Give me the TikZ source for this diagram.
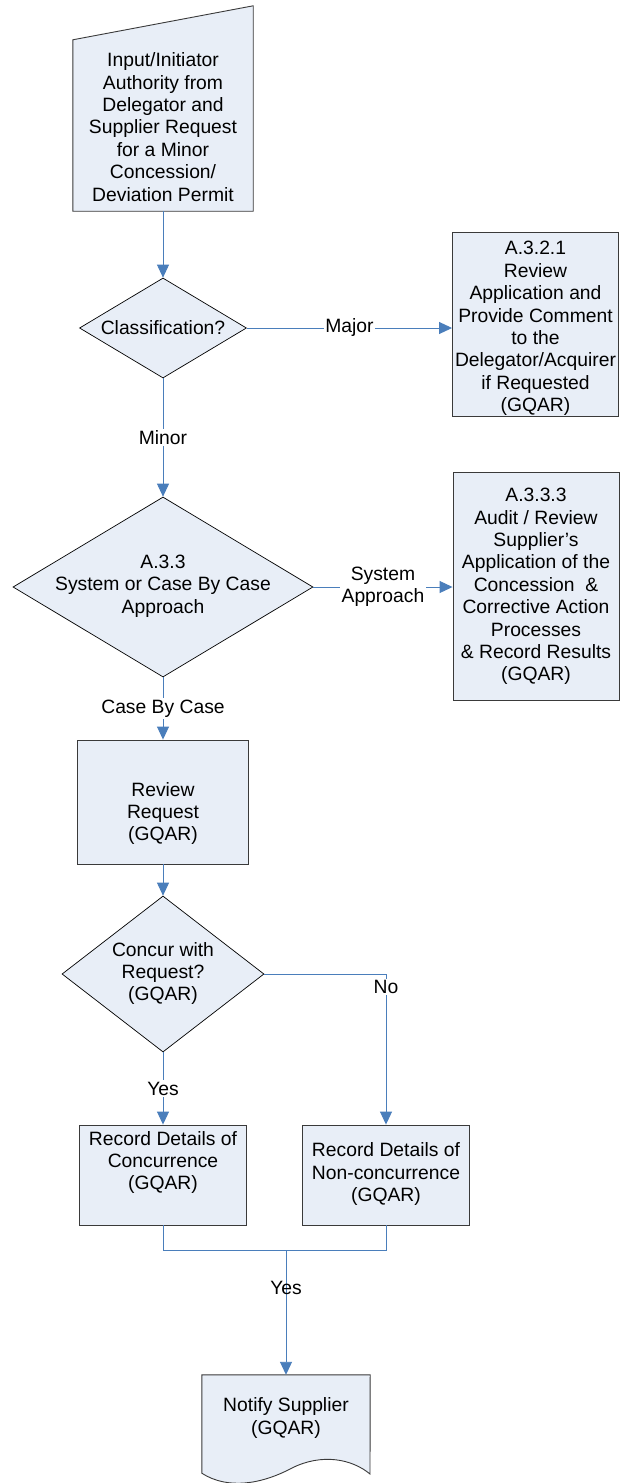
\documentclass[tikz,border=0pt]{standalone}
\usepackage{fontspec}
\setmainfont{Liberation Sans}
\usetikzlibrary{shapes.geometric,arrows.meta,calc}
\definecolor{boxfill}{HTML}{E8EEF7}
\definecolor{linkblue}{HTML}{4A7EBB}
\definecolor{edgegray}{HTML}{3A3A3A}
\begin{document}
\begin{tikzpicture}[x=1pt,y=-1pt,
  every node/.style={font=\fontsize{19.3}{22.4}\selectfont},
  procbox/.style={draw=edgegray, fill=boxfill, line width=0.9pt, rectangle, inner sep=0pt},
  decbox/.style={draw=black, fill=boxfill, line width=0.7pt, diamond, inner sep=0pt},
  ghost/.style={draw=none, rectangle, inner sep=0pt},
  txt/.style={align=center, inner sep=0pt},
  conn/.style={draw=linkblue, line width=0.9pt},
  arr/.style={conn, -{Triangle[width=12pt,length=13pt]}},
  lbl/.style={fill=white, inner sep=1.5pt, align=center},
  lblclear/.style={inner sep=1.5pt, align=center},
]
\useasboundingbox[fill=white] (0,0) rectangle (620,1483);

% Manual input shape
\node[ghost, minimum width=180pt, minimum height=205pt] (inp) at (163,108.5) {};
\draw[draw=edgegray, fill=boxfill, line width=0.9pt]
  (inp.south west) -- (inp.south east) -- (inp.north east) -- ($(inp.north west)+(0,34)$) -- cycle;
\node[txt] (inpTxt) at (163,127) {Input/Initiator\\Authority from\\Delegator and\\Supplier Request\\for a Minor\\Concession/\\Deviation Permit};

% Classification diamond
\node[decbox, minimum width=167pt, minimum height=100pt] (d1) at (163,328) {};
\node[txt] (d1Txt) at (163,328) {Classification?};

% A.3.2.1 box
\node[procbox, minimum width=166pt, minimum height=184pt] (r1) at (535.5,324.5) {};
\node[txt] (r1Txt) at (535.5,328.5) {A.3.2.1\\Review\\Application and\\Provide Comment\\to the\\Delegator/Acquirer\\if Requested\\(GQAR)};

% A.3.3 diamond
\node[decbox, minimum width=300pt, minimum height=180pt] (d2) at (163,587) {};
\node[txt] (d2Txt) at (163,586) {A.3.3\\System or Case By Case\\Approach};

% A.3.3.3 box
\node[procbox, minimum width=166pt, minimum height=228pt] (r2) at (536,586) {};
\node[txt] (r2Txt) at (536,586.5) {A.3.3.3\\Audit / Review\\Supplier’s\\Application of the\\Concession~~\&\\Corrective Action\\Processes\\\& Record Results\\(GQAR)};

% Review request
\node[procbox, minimum width=171pt, minimum height=124pt] (rv) at (163,802) {};
\node[txt] (rvTxt) at (163,813.5) {Review\\Request\\(GQAR)};

% Concur diamond
\node[decbox, minimum width=202pt, minimum height=156pt] (d3) at (163,974) {};
\node[txt] (d3Txt) at (163,973.5) {Concur with\\Request?\\(GQAR)};

% Record boxes
\node[procbox, minimum width=167pt, minimum height=100pt] (rc) at (163,1175) {};
\node[txt] (rcTxt) at (163,1162.5) {Record Details of\\Concurrence\\(GQAR)};
\node[procbox, minimum width=167pt, minimum height=100pt] (nc) at (386,1175) {};
\node[txt] (ncTxt) at (386,1174) {Record Details of\\Non-concurrence\\(GQAR)};

% Document shape
\node[ghost, minimum width=168pt, minimum height=98pt] (doc) at (286,1424) {};
\draw[draw=edgegray, fill=boxfill, line width=0.9pt]
  (doc.south west) -- (doc.north west) -- (doc.north east) -- (370,1474)
  .. controls (352,1459) and (322,1453) .. (292,1468)
  .. controls (262,1484) and (228,1490) .. (doc.south west) -- cycle;
\node[txt] (docTxt) at (286,1418) {Notify Supplier\\(GQAR)};

% Connectors
\coordinate (m) at (286,1250);
\draw[arr] (inp.south) -- (d1.north);
\draw[arr] (d1.east) -- node[lbl]{Major} (d1.east -| r1.west);
\draw[arr] (d1.south) -- node[lbl]{Minor} (d2.north);
\draw[arr] (d2.east) -- node[lbl]{System\\Approach} (d2.east -| r2.west);
\draw[arr] (d2.south) -- node[lbl]{Case By Case} (rv.north);
\draw[arr] (rv.south) -- (d3.north);
\draw[arr] (d3.south) -- node[lbl]{Yes} (rc.north);
\draw[arr] (d3.east) -| node[lbl, pos=0.543]{No} (nc.north);
\draw[conn] (rc.south) |- (m) -| (nc.south);
\draw[arr] (m) -- node[lblclear, pos=0.3]{Yes} (doc.north);
\end{tikzpicture}
\end{document}
